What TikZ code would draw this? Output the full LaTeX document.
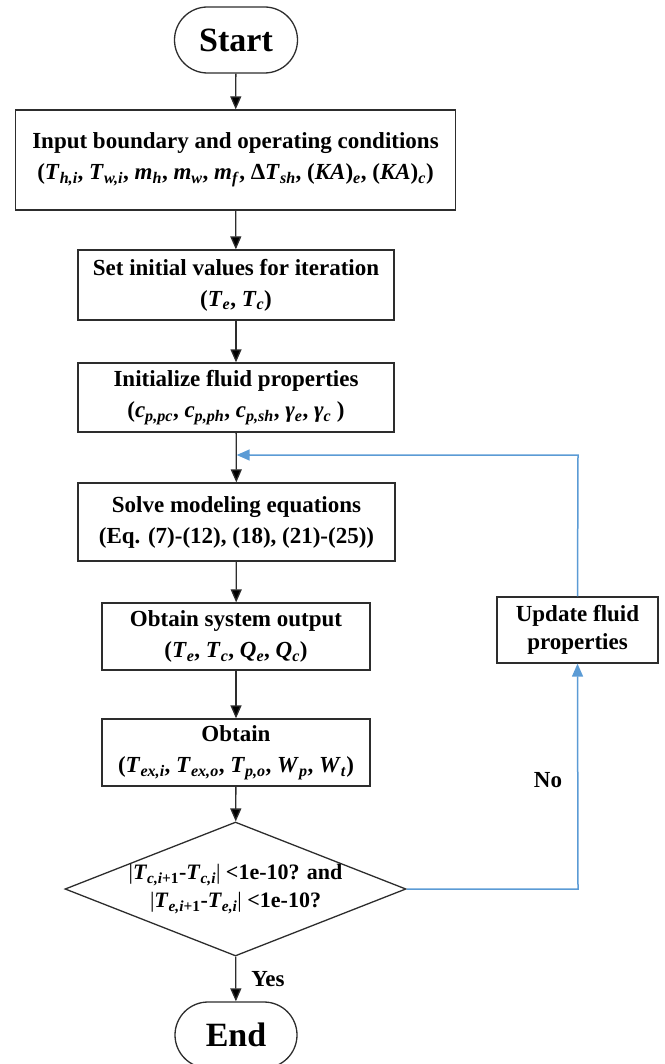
\documentclass[tikz,border=0pt]{standalone}
\usepackage{fontspec}
\setmainfont{Liberation Serif}
\usetikzlibrary{arrows.meta,shapes.geometric}
\newcommand{\V}[2]{\textit{#1}\textsubscript{\textit{#2}}}
\definecolor{loopblue}{RGB}{91,155,213}
\definecolor{edge}{RGB}{45,45,45}
\begin{document}
\begin{tikzpicture}[x=1pt,y=-1pt,
  every node/.style={font=\bfseries\fontsize{23}{31}\selectfont, align=center, inner sep=0pt},
  procbox/.style={draw=edge, line width=1.3pt, rectangle, fill=white},
  term/.style={draw=edge, line width=1.3pt, rounded corners=33pt, minimum width=123pt, minimum height=66pt, font=\bfseries\fontsize{34}{40}\selectfont},
  flow/.style={draw=edge, line width=1.3pt, -{Triangle[length=13pt,width=11pt,fill=black]}},
  back/.style={draw=loopblue, line width=1.5pt},
  backarrow/.style={back, -{Triangle[length=13pt,width=11pt,fill=loopblue]}},
  lbl/.style={font=\bfseries\fontsize{23}{28}\selectfont}
]
\useasboundingbox (0,0) rectangle (664,1064);

\node[term] (start) at (236,40) {Start};
\node[procbox, minimum width=440pt, minimum height=100pt] (b1) at (235.5,160)
  {Input boundary and operating conditions\\(\V{T}{h,i}, \V{T}{w,i}, \V{m}{h}, \V{m}{w}, \V{m}{f}, Δ\V{T}{sh}, (\textit{KA})\textsubscript{\textit{e}}, (\textit{KA})\textsubscript{\textit{c}})};
\node[procbox, minimum width=316pt, minimum height=70pt] (b2) at (236,285)
  {Set initial values for iteration\\(\V{T}{e}, \V{T}{c})};
\node[procbox, minimum width=316pt, minimum height=69pt] (b3) at (236,397.5)
  {Initialize fluid properties\\(\V{c}{p,pc}, \V{c}{p,ph}, \V{c}{p,sh}, \V{γ}{e}, \V{γ}{c} )};
\node[procbox, minimum width=317pt, minimum height=78pt] (b4) at (236.5,522)
  {Solve modeling equations\\(Eq. (7)-(12), (18), (21)-(25))};
\node[procbox, minimum width=268pt, minimum height=67pt] (b5) at (236,636.5)
  {Obtain system output\\(\V{T}{e}, \V{T}{c}, \V{Q}{e}, \V{Q}{c})};
\node[procbox, minimum width=268pt, minimum height=67pt] (b6) at (236,752.5)
  {Obtain\\(\V{T}{ex,i}, \V{T}{ex,o}, \V{T}{p,o}, \V{W}{p}, \V{W}{t})};
\node[draw=edge, line width=1.3pt, diamond, minimum width=341pt, minimum height=134pt] (dec) at (235.5,889) {};
\node[lbl, font=\bfseries\fontsize{22}{28}\selectfont] (dectext) at (dec.center)
  {\textmd{|}\textit{T}\textsubscript{\textit{c,i}+1}-\V{T}{c,i}\textmd{|} <1e-10? and\\\textmd{|}\textit{T}\textsubscript{\textit{e,i}+1}-\V{T}{e,i}\textmd{|} <1e-10?};
\node[term, minimum width=122pt] (end) at (236,1035) {End};
\node[procbox, minimum width=161pt, minimum height=66pt, font=\bfseries\fontsize{23}{28}\selectfont] (upd) at (577.5,630)
  {Update fluid\\properties};

\node[lbl] (yes) at (268,979) {Yes};
\node[lbl] (no) at (548,780) {No};

\coordinate (corner1) at (578,889);
\coordinate (corner2) at (578,455);
\coordinate (join) at (236,455);

\draw[flow] (start) -- (b1);
\draw[flow] (b1) -- (b2);
\draw[flow] (b2) -- (b3);
\draw[flow] (b3) -- (b4);
\draw[flow] (b4) -- (b5);
\draw[flow] (b5) -- (b6);
\draw[flow] (b6) -- (dec);
\draw[flow] (dec) -- (end);
\draw[backarrow] (dec.east) -- (corner1) -- (upd.south);
\draw[back] (upd.north) -- (corner2) -- ([xshift=14pt]join);
\draw[backarrow] ([xshift=14pt]join) -- ([xshift=0.7pt]join);
\end{tikzpicture}
\end{document}
